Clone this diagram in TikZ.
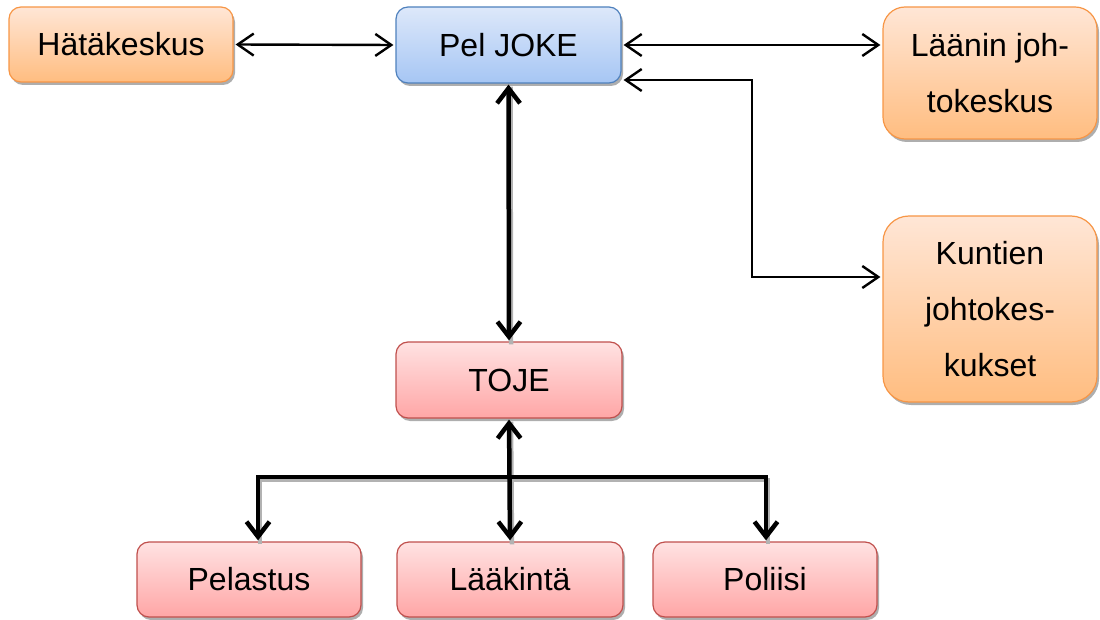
\documentclass[tikz,border=0pt]{standalone}
\usepackage{fontspec}
\setmainfont{Liberation Sans}
\usetikzlibrary{arrows.meta,shadows,calc}
\definecolor{orbord}{HTML}{F79646}
\definecolor{ortop}{HTML}{FFE6D6}
\definecolor{orbot}{HTML}{FFBD80}
\definecolor{blbord}{HTML}{4F81BD}
\definecolor{bltop}{HTML}{DDE8FA}
\definecolor{blbot}{HTML}{A6C6F4}
\definecolor{rdbord}{HTML}{C0504D}
\definecolor{rdtop}{HTML}{FFE2E2}
\definecolor{rdbot}{HTML}{FFA6A6}
\tikzset{
  Tk/.tip={Straight Barb[length=15pt,width=23pt,line width=4.5pt]},
  Tn/.tip={Straight Barb[length=16pt,width=22pt,line width=2.4pt]}
}
\begin{document}
\begin{tikzpicture}[x=1pt,y=-1pt,
  box/.style={rectangle, line width=1.2pt, align=center, inner sep=0pt,
    font=\fontsize{32pt}{56pt}\selectfont,
    drop shadow={shadow xshift=2pt, shadow yshift=-3pt, fill=black!45, opacity=0.7}},
  orbox/.style={box, draw=orbord, top color=ortop, bottom color=orbot},
  blbox/.style={box, draw=blbord, top color=bltop, bottom color=blbot},
  rdbox/.style={box, draw=rdbord, top color=rdtop, bottom color=rdbot},
  thin/.style={line width=2.4pt, {Tn}-{Tn}, shorten <=2pt, shorten >=2pt},
  thickarr/.style={line width=4.5pt, shorten <=1pt, shorten >=1pt},
  thickshadow/.style={line width=4.5pt, draw=black!30, transform canvas={xshift=2pt,yshift=-3pt}}
]
\useasboundingbox (0,0) rectangle (1100,620);
% nodes
\node[orbox, minimum width=224pt, minimum height=75pt, rounded corners=12pt] (hat) at (121,44.5) {Hätäkeskus};
\node[blbox, minimum width=225pt, minimum height=76pt, rounded corners=12pt] (pel) at (508.5,45) {Pel JOKE};
\node[orbox, minimum width=214pt, minimum height=132pt, rounded corners=22pt] (laa) at (990,73) {Läänin joh-\\tokeskus};
\node[orbox, minimum width=214pt, minimum height=186pt, rounded corners=26pt] (kun) at (990,309) {Kuntien\\johtokes-\\kukset};
\node[rdbox, minimum width=226pt, minimum height=76pt, rounded corners=12pt] (toje) at (509,380) {TOJE};
\node[rdbox, minimum width=224pt, minimum height=75pt, rounded corners=12pt] (pls) at (249,579.5) {Pelastus};
\node[rdbox, minimum width=226pt, minimum height=75pt, rounded corners=12pt] (laak) at (510,579.5) {Lääkintä};
\node[rdbox, minimum width=224pt, minimum height=75pt, rounded corners=12pt] (pol) at (765,579.5) {Poliisi};
% coordinates
\coordinate (k1) at (752,80);
\coordinate (k2) at (752,277);
\coordinate (b1) at (258,477);
\coordinate (b3) at (766,477);
% thin connectors
\draw[thin] (hat.east) -- (pel.west);
\draw[thin] (pel.east) -- (laa.west |- pel.east);
\draw[thin] (pel.east |- k1) -- (k1) -- (k2) -- (kun.west |- k2);
% thick shadows
\draw[thickshadow] (pel.south) -- (toje.north);
\draw[thickshadow] (toje.south) -- (laak.north);
\draw[thickshadow] (b1 |- pls.north) -- (b1) -- (b3) -- (b3 |- pol.north);
% thick connectors
\draw[thickarr, {Tk}-{Tk}] (pel.south) -- (toje.north);
\draw[thickarr, {Tk}-{Tk}] (toje.south) -- (laak.north);
\draw[line width=4.5pt, -{Tk}, shorten >=1pt] (b1) -- (b1 |- pls.north);
\draw[line width=4.5pt, -{Tk}, shorten >=1pt] (b3) -- (b3 |- pol.north);
\draw[line width=4.5pt, line cap=rect] (b1) -- (b3);
\end{tikzpicture}
\end{document}
